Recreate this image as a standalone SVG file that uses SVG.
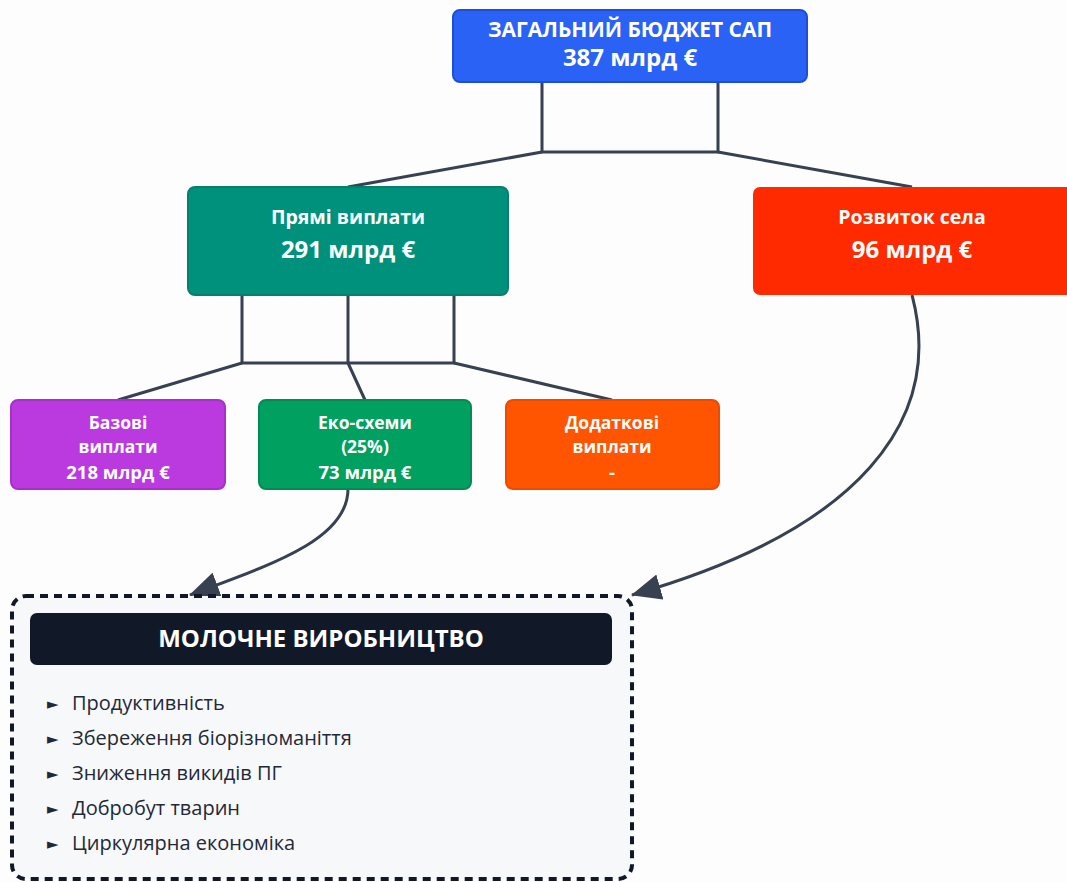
<svg xmlns="http://www.w3.org/2000/svg" width="1067" height="882" viewBox="0 0 1067 882">
<defs>
<style>
.t{font-family:"Open Sans","Noto Sans","DejaVu Sans",sans-serif;fill:#fff;font-weight:bold;text-anchor:middle}
.c{fill:none;stroke:#374151;stroke-width:3}
.li{font-family:"Open Sans","Noto Sans","DejaVu Sans",sans-serif;fill:#1f2937;font-size:20px}
.bu{font-family:"DejaVu Sans",sans-serif;fill:#1f2937;font-size:15px}
</style>
<marker id="arr" viewBox="0 0 30 26" refX="29" refY="13" markerWidth="30" markerHeight="26" markerUnits="userSpaceOnUse" orient="auto">
<path d="M0,0 L30,13 L0,26 z" fill="#374151"/>
</marker>
</defs>
<rect width="1067" height="882" fill="#fdfdfd"/>
<g id="connectors">
<path class="c" d="M542,82 V152 H718 V82"/>
<path class="c" d="M542,152 L348,187"/>
<path class="c" d="M718,152 L912,187"/>
<path class="c" d="M242,295 V363 H454 V295"/>
<path class="c" d="M348,295 V363"/>
<path class="c" d="M242,363 L118,400"/>
<path class="c" d="M348,363 L365,400"/>
<path class="c" d="M454,363 L612,400"/>
<path class="c" d="M348,489 C348,540 270,565 190,595" marker-end="url(#arr)"/>
<path class="c" d="M912,295 C945,420 860,530 632,595" marker-end="url(#arr)"/>
</g>
<g id="n-total">
<rect x="453" y="10" width="354" height="72" rx="7" fill="#2962f5" stroke="#1d4ed8" stroke-width="2"/>
<text class="t" x="630" y="37" font-size="21">ЗАГАЛЬНИЙ БЮДЖЕТ САП</text>
<text class="t" x="630" y="66" font-size="24">387 млрд €</text>
</g>
<g id="n-direct">
<rect x="188" y="187" width="320" height="108" rx="7" fill="#00917c" stroke="#06806d" stroke-width="2"/>
<text class="t" x="348" y="224" font-size="19.5">Прямі виплати</text>
<text class="t" x="348" y="258" font-size="24">291 млрд €</text>
</g>
<g id="n-rural">
<rect x="753" y="187" width="320" height="108" rx="7" fill="#ff2a00"/>
<text class="t" x="912" y="224" font-size="19.5">Розвиток села</text>
<text class="t" x="912" y="258" font-size="24">96 млрд €</text>
</g>
<g id="n-basic">
<rect x="11" y="400" width="214" height="89" rx="7" fill="#bb3ae0" stroke="#a630c8" stroke-width="2"/>
<text class="t" x="118" y="429" font-size="17.5">Базові</text>
<text class="t" x="118" y="453" font-size="17.5">виплати</text>
<text class="t" x="118" y="479" font-size="18.5">218 млрд €</text>
</g>
<g id="n-eco">
<rect x="259" y="400" width="212" height="89" rx="7" fill="#00a060" stroke="#058a55" stroke-width="2"/>
<text class="t" x="365" y="429" font-size="17.5">Еко-схеми</text>
<text class="t" x="365" y="453" font-size="17.5">(25%)</text>
<text class="t" x="365" y="479" font-size="18.5">73 млрд €</text>
</g>
<g id="n-extra">
<rect x="506" y="400" width="213" height="89" rx="7" fill="#ff5500" stroke="#ef4a00" stroke-width="2"/>
<text class="t" x="612" y="429" font-size="17.5">Додаткові</text>
<text class="t" x="612" y="453" font-size="17.5">виплати</text>
<text class="t" x="612" y="479" font-size="18.5">-</text>
</g>
<g id="n-dairy">
<rect x="12" y="596" width="620" height="283" rx="14" fill="#f7f8fa" stroke="#111827" stroke-width="4" stroke-dasharray="8,6"/>
<rect x="30" y="613" width="582" height="52" rx="7" fill="#111827"/>
<text class="t" x="321" y="647" font-size="24" font-weight="600">МОЛОЧНЕ ВИРОБНИЦТВО</text>
<text class="bu" x="47" y="709">►</text><text class="li" x="72" y="710">Продуктивність</text>
<text class="bu" x="47" y="744">►</text><text class="li" x="72" y="745">Збереження біорізноманіття</text>
<text class="bu" x="47" y="779">►</text><text class="li" x="72" y="780">Зниження викидів ПГ</text>
<text class="bu" x="47" y="814">►</text><text class="li" x="72" y="815">Добробут тварин</text>
<text class="bu" x="47" y="849">►</text><text class="li" x="72" y="850">Циркулярна економіка</text>
</g>
</svg>
